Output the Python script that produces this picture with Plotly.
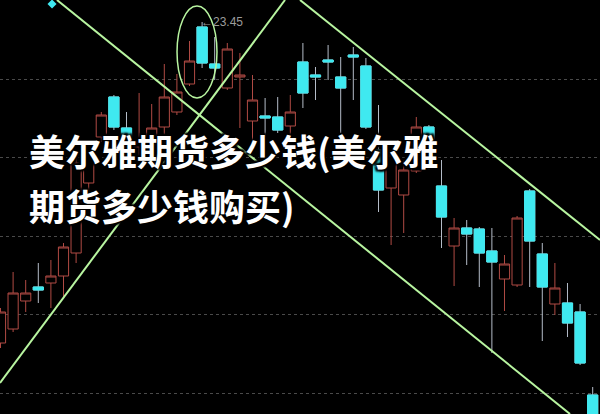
import plotly.graph_objects as go

# ---- data ----
idx = list(range(48))
opens = [20.24, 20.38, 20.66, 20.80, 20.84, 20.91, 21.14, 21.84, 22.30, 22.70,
         22.39, 22.20, 22.28, 22.40, 22.55, 22.83, 23.40, 23.03, 22.79, 22.90,
         22.46, 22.51, 22.50, 22.41, 23.05, 22.92, 23.07, 22.90, 23.12, 23.01,
         22.17, 21.79, 21.72, 21.96, 22.40, 21.81, 21.21, 21.39, 21.38, 21.16,
         20.88, 20.82, 21.76, 21.13, 20.63, 20.64, 20.55, 19.72]
highs = [20.59, 20.95, 20.87, 21.04, 21.07, 21.24, 22.10, 22.27, 22.55, 22.72,
         22.55, 22.74, 22.63, 23.03, 22.93, 23.26, 23.45, 23.30, 23.24, 23.14,
         22.92, 22.69, 22.70, 22.72, 23.24, 23.00, 23.22, 23.10, 23.20, 23.09,
         22.62, 22.17, 22.07, 22.50, 22.42, 22.07, 21.49, 21.47, 21.40, 21.39,
         21.12, 21.51, 21.78, 21.24, 21.04, 20.84, 20.63, 19.80]
lows = [20.19, 20.35, 20.55, 20.64, 20.59, 20.70, 21.04, 21.75, 22.25, 22.37,
        22.25, 22.07, 22.12, 22.20, 22.52, 22.81, 22.99, 22.87, 22.77, 22.39,
        22.27, 22.30, 22.34, 22.29, 22.59, 22.67, 22.87, 22.34, 22.67, 22.38,
        21.55, 21.22, 21.34, 21.94, 21.97, 21.19, 20.81, 21.02, 20.80, 20.14,
        20.56, 20.80, 20.80, 20.26, 20.52, 20.30, 20.02, 19.37]
closes = [20.55, 20.74, 20.74, 20.77, 20.91, 21.20, 22.04, 22.24, 22.52, 22.40,
          22.27, 22.25, 22.39, 22.70, 22.75, 23.06, 23.04, 22.99, 23.18, 22.92,
          22.67, 22.49, 22.37, 22.55, 22.74, 22.90, 23.05, 22.79, 23.10, 22.40,
          21.77, 22.12, 21.97, 22.40, 22.02, 21.50, 21.39, 21.33, 21.14, 21.05,
          21.03, 21.49, 21.26, 20.80, 20.79, 20.44, 20.04, 19.42]

grid_prices = [22.88, 22.10, 21.31, 20.53, 19.74]

# trend lines drawn on the chart: (index, price) pairs
line_a_x = [4.48, 45.20]
line_a_y = [23.67, 19.53]
line_b_x = [-0.04, 22.58]
line_b_y = [19.84, 23.67]
line_c_x = [23.77, 47.58]
line_c_y = [23.67, 21.27]

# ellipse around the peak
ellipse_x = [14.01, 17.18]
ellipse_y = [22.69, 23.61]

marker_x = [4.09]
marker_y = [23.63]

peak_label = "←23.45"
peak_x = 16
peak_y = 23.45

title_line1 = "美尔雅期货多少钱(美尔雅"
title_line2 = "期货多少钱购买)"

RED = "#b04a44"
CYAN = "#3fe9f0"
WICK = "#b4bcc8"
GREEN = "#b8f5a0"

body_hi = [max(o, c) for o, c in zip(opens, closes)]
body_lo = [min(o, c) for o, c in zip(opens, closes)]

fig = go.Figure()

# main candles (wicks grey for falling candles)
fig.add_trace(go.Candlestick(
    x=idx, open=opens, high=highs, low=lows, close=closes,
    increasing=dict(line=dict(color=RED, width=1), fillcolor="black"),
    decreasing=dict(line=dict(color=WICK, width=1), fillcolor=CYAN),
    whiskerwidth=0, hoverinfo="skip", showlegend=False,
))
# cyan outline over falling bodies
fig.add_trace(go.Candlestick(
    x=idx, open=opens, high=body_hi, low=body_lo, close=closes,
    increasing=dict(line=dict(color="rgba(0,0,0,0)", width=0), fillcolor="rgba(0,0,0,0)"),
    decreasing=dict(line=dict(color=CYAN, width=1), fillcolor=CYAN),
    whiskerwidth=0, hoverinfo="skip", showlegend=False,
))

for lx, ly in [(line_a_x, line_a_y), (line_b_x, line_b_y), (line_c_x, line_c_y)]:
    fig.add_trace(go.Scatter(x=lx, y=ly, mode="lines",
                             line=dict(color=GREEN, width=2),
                             hoverinfo="skip", showlegend=False))

fig.add_trace(go.Scatter(x=marker_x, y=marker_y, mode="markers",
                         marker=dict(symbol="diamond", size=7, color=CYAN),
                         hoverinfo="skip", showlegend=False, cliponaxis=False))

fig.add_shape(type="circle", xref="x", yref="y",
              x0=ellipse_x[0], x1=ellipse_x[1], y0=ellipse_y[0], y1=ellipse_y[1],
              line=dict(color=GREEN, width=1.5))

fig.add_annotation(x=peak_x, y=peak_y, text=peak_label, showarrow=False,
                   xanchor="left", yanchor="middle", xshift=-3,
                   font=dict(family="Liberation Sans, Arial", size=12, color="#9c9c9c"))

title_font = dict(family="Noto Sans CJK SC", size=36, color="white", weight="bold",
                  shadow="2px 2px 2px black, -2px -2px 2px black, 2px -2px 2px black, -2px 2px 2px black")
fig.add_annotation(xref="paper", yref="paper", x=0.045, y=0.638, text=title_line1,
                   showarrow=False, xanchor="left", yanchor="middle", font=title_font)
fig.add_annotation(xref="paper", yref="paper", x=0.045, y=0.505, text=title_line2,
                   showarrow=False, xanchor="left", yanchor="middle", font=title_font)

fig.update_layout(
    width=600, height=414,
    margin=dict(l=0, r=0, t=0, b=0),
    paper_bgcolor="black", plot_bgcolor="black",
    boxgap=0.15, boxgroupgap=0.05,
    xaxis=dict(range=[-0.04, 47.58], showgrid=False, zeroline=False,
               showticklabels=False, rangeslider=dict(visible=False), fixedrange=True),
    yaxis=dict(range=[19.53, 23.67], tickvals=grid_prices, showgrid=True,
               gridcolor="#4a4a4a", griddash="dot", gridwidth=1,
               zeroline=False, showticklabels=False, fixedrange=True),
    showlegend=False,
)

fig.write_html("out.html", config={"displayModeBar": False},
               post_script="document.body.style.margin='0';document.body.style.background='black';")
